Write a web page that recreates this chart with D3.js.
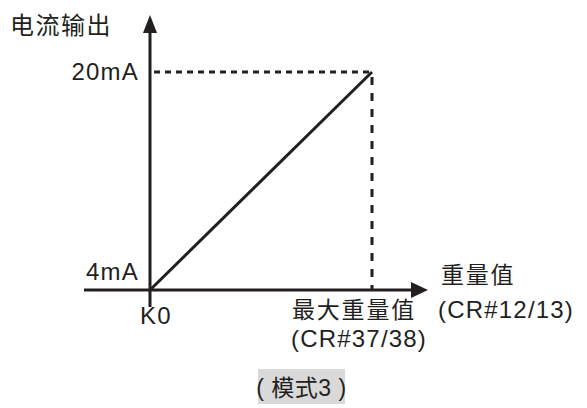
<!DOCTYPE html>
<html><head><meta charset="utf-8">
<script src="https://cdn.jsdelivr.net/npm/d3@7"></script>
<style>
html,body{margin:0;padding:0;background:#fff;}
svg text{font-family:"Liberation Sans",Arial,sans-serif;fill:#231f20;}
.cjk{font-family:"Noto Sans CJK SC","Liberation Sans",sans-serif;}
.mix{font-family:"Liberation Sans","Noto Sans CJK SC",sans-serif;}
</style></head>
<body>
<script>
// Data
const xDomain = [0, 1];            // K0 .. 最大重量值
const yDomain = [4, 20];           // mA
const linePoints = [[0, 4], [1, 20]];
const yTickLabels = ["4mA", "20mA"];
const yTickValues = [4, 20];
const xOriginLabel = "K0";
const yAxisTitle = "电流输出";
const xAxisTitle = ["重量值", "(CR#12/13)"];
const xMaxLabel = ["最大重量值", "(CR#37/38)"];
const modeLabel = "( 模式3 )";

const W = 587, H = 408;
const svg = d3.select("body").append("svg").attr("width", W).attr("height", H);
const col = "#231f20";

const x = d3.scaleLinear().domain(xDomain).range([150, 372]);
const y = d3.scaleLinear().domain(yDomain).range([290, 72]);

// axes
svg.append("line").attr("x1", 84).attr("x2", 414).attr("y1", y(4)).attr("y2", y(4))
  .attr("stroke", col).attr("stroke-width", 3);
svg.append("path").attr("d", `M428,${y(4)} L411,${y(4)-8} L411,${y(4)+8} Z`).attr("fill", col);
svg.append("line").attr("x1", x(0)).attr("x2", x(0)).attr("y1", 307).attr("y2", 30)
  .attr("stroke", col).attr("stroke-width", 3);
svg.append("path").attr("d", `M${x(0)},15 L${x(0)-7},33 L${x(0)+7},33 Z`).attr("fill", col);

// guide lines
svg.append("line").attr("x1", x(0)+4).attr("x2", x(1)).attr("y1", y(20)).attr("y2", y(20))
  .attr("stroke", col).attr("stroke-width", 3).attr("stroke-dasharray", "6,5");
svg.append("line").attr("x1", x(1)).attr("x2", x(1)).attr("y1", y(20)+5).attr("y2", y(4))
  .attr("stroke", col).attr("stroke-width", 3).attr("stroke-dasharray", "8,8");

// data line
svg.append("path").datum(linePoints)
  .attr("d", d3.line().x(d => x(d[0])).y(d => y(d[1])))
  .attr("fill", "none").attr("stroke", col).attr("stroke-width", 3);

// y tick labels (above their levels)
svg.selectAll(".yt").data(yTickValues).enter().append("text")
  .attr("x", 139).attr("y", d => d === 4 ? y(d) - 10 : y(d) + 8)
  .attr("text-anchor", "end").attr("font-size", 24).attr("letter-spacing", 1.2)
  .text((d, i) => yTickLabels[i]);

svg.append("text").attr("x", 140).attr("y", 324).attr("font-size", 24).attr("letter-spacing", 1.2).text(xOriginLabel);

svg.append("text").attr("class", "cjk").attr("x", 10).attr("y", 34).attr("font-size", 24).attr("letter-spacing", 1.5).text(yAxisTitle);

svg.append("text").attr("class", "cjk").attr("x", 441).attr("y", 283).attr("font-size", 23).attr("letter-spacing", 1.8).text(xAxisTitle[0]);
svg.append("text").attr("x", 438).attr("y", 318).attr("font-size", 24).attr("letter-spacing", 1.2).text(xAxisTitle[1]);

svg.append("text").attr("class", "cjk").attr("x", 292).attr("y", 318).attr("font-size", 23).attr("letter-spacing", 1.8).text(xMaxLabel[0]);
svg.append("text").attr("x", 291).attr("y", 347).attr("font-size", 24).attr("letter-spacing", 1.2).text(xMaxLabel[1]);

// mode box
svg.append("rect").attr("x", 258).attr("y", 369).attr("width", 87).attr("height", 35).attr("fill", "#d9d9d9");
svg.append("text").attr("class", "mix").attr("x", 301.5).attr("y", 396).attr("text-anchor", "middle")
  .attr("font-size", 23).attr("letter-spacing", 0.5).text(modeLabel);
</script>
</body></html>
